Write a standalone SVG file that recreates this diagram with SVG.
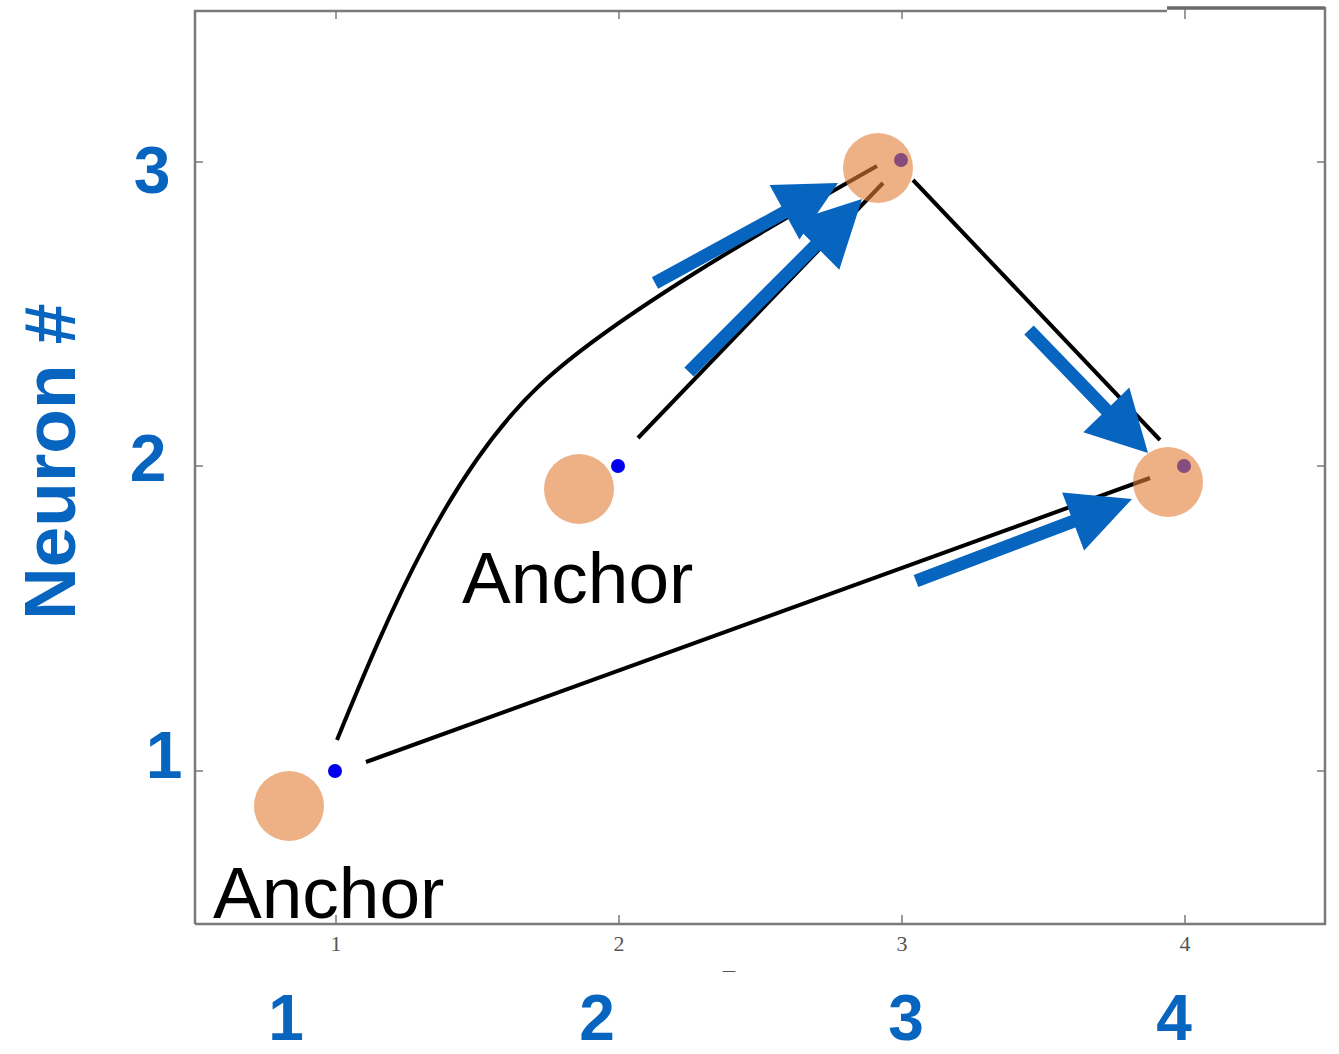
<svg xmlns="http://www.w3.org/2000/svg" width="1339" height="1054" viewBox="0 0 1339 1054">
<style>
.frame{fill:none;stroke:#7a7a7a;stroke-width:2.5}
.tick{stroke:#7a7a7a;stroke-width:1.5}
.ticklbl{font-family:"Liberation Serif",serif;font-size:22px;fill:#555;text-anchor:middle}
.line{fill:none;stroke:#000;stroke-width:4}
.arrow{fill:#0764BF}
.anchor{fill:#E17D34;fill-opacity:0.6}
.bdot{fill:#0000ee}
.blue{font-family:"Liberation Sans",Arial,sans-serif;font-weight:bold;fill:#0764BF;text-anchor:middle}
.anchortxt{font-family:"Liberation Sans",Arial,sans-serif;font-size:73px;fill:#000}
</style>
<defs>
<clipPath id="tclip"><rect x="700" y="955" width="60" height="17"/></clipPath>
</defs>
<rect width="1339" height="1054" fill="#fff"/>
<g id="axes">
<path class="frame" d="M195,924 L195,11 L1167,11"/>
<path d="M1167,8 L1325,8" stroke="#6a6a6a" stroke-width="3.5" fill="none"/>
<path class="frame" d="M1325,7 L1325,924 L195,924"/>
<g class="tick">
<line x1="336" y1="924" x2="336" y2="915"/><line x1="619" y1="924" x2="619" y2="915"/><line x1="902" y1="924" x2="902" y2="915"/><line x1="1185" y1="924" x2="1185" y2="915"/>
<line x1="336" y1="11" x2="336" y2="19"/><line x1="619" y1="11" x2="619" y2="19"/><line x1="902" y1="11" x2="902" y2="19"/><line x1="1185" y1="9" x2="1185" y2="19"/>
<line x1="195" y1="162" x2="203" y2="162"/><line x1="195" y1="466" x2="203" y2="466"/><line x1="195" y1="771" x2="203" y2="771"/>
<line x1="1325" y1="162" x2="1317" y2="162"/><line x1="1325" y1="466" x2="1317" y2="466"/><line x1="1325" y1="771" x2="1317" y2="771"/>
</g>
<text class="ticklbl" x="336" y="951">1</text>
<text class="ticklbl" x="619" y="951">2</text>
<text class="ticklbl" x="902" y="951">3</text>
<text class="ticklbl" x="1185" y="951">4</text>
<text class="ticklbl" x="729" y="985" font-size="24" fill="#222" clip-path="url(#tclip)">T</text>
</g>
<g id="connectors">
<path class="line" d="M337,740 C390,610 450,470 540,385 C610,319 760,232 877,166"/>
<path class="line" d="M638,438 L883,183"/>
<path class="line" d="M913,180 L1160,440"/>
<path class="line" d="M366,762 L1150,478"/>
</g>
<g id="node-1-1">
<circle class="bdot" cx="335" cy="771" r="7"/>
<circle cx="289" cy="806" r="35" fill="#EDB185"/>
</g>
<g id="node-2-2">
<circle class="bdot" cx="618" cy="466" r="7"/>
<circle cx="579" cy="489" r="35" fill="#EDB185"/>
</g>
<g id="node-3-3">
<circle class="bdot" cx="901" cy="160" r="7"/>
<circle class="anchor" cx="878" cy="168" r="35"/>
</g>
<g id="node-4-2">
<circle class="bdot" cx="1184" cy="466" r="7"/>
<circle class="anchor" cx="1168" cy="482" r="35"/>
</g>
<g id="arrows">
<polygon class="arrow" points="651.9,277.3 781.4,206.6 769.6,185.1 838,183 799.4,239.5 787.6,218.0 658.1,288.7"/>
<polygon class="arrow" points="684.4,367.4 810.7,241.1 791.3,221.7 862,199 839.3,269.7 819.9,250.3 693.6,376.6"/>
<polygon class="arrow" points="1033.7,325.5 1111.0,405.4 1129.3,387.6 1148,453 1083.3,432.2 1101.6,414.4 1024.3,334.5"/>
<polygon class="arrow" points="913.7,574.9 1070.8,515.3 1062.1,492.4 1132,499 1084.1,550.4 1075.4,527.5 918.3,587.1"/>
</g>
<g id="labels">
<text class="anchortxt" x="462" y="603">Anchor</text>
<text class="anchortxt" x="213" y="918">Anchor</text>
<text class="blue" font-size="66" x="152" y="193">3</text>
<text class="blue" font-size="66" x="148" y="481">2</text>
<text class="blue" font-size="66" x="164" y="778">1</text>
<text class="blue" font-size="64" x="286" y="1040">1</text>
<text class="blue" font-size="64" x="597" y="1040">2</text>
<text class="blue" font-size="64" x="906" y="1040">3</text>
<text class="blue" font-size="64" x="1174" y="1040">4</text>
<text class="blue" font-size="73" style="text-anchor:start" transform="translate(75,620) rotate(-90)">Neuron #</text>
</g>
</svg>
